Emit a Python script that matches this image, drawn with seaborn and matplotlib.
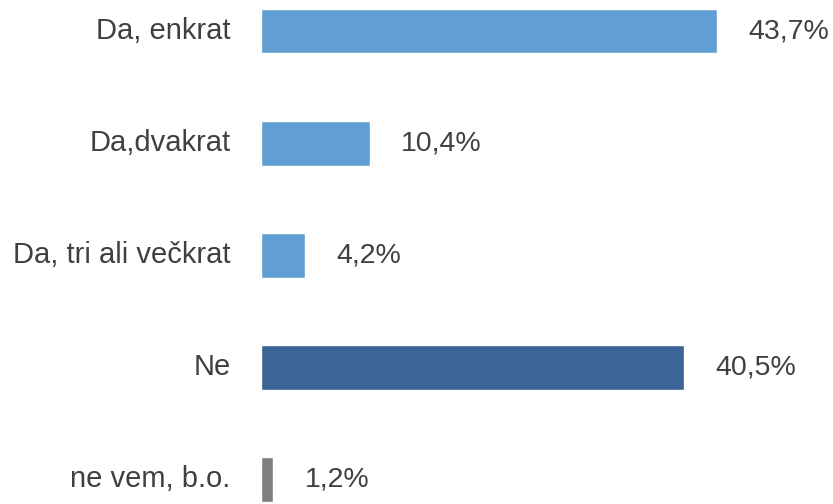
"""Horizontal bar chart: Da, enkrat / Da,dvakrat / ... shares in percent."""

import matplotlib.pyplot as plt
import pandas as pd
import seaborn as sns

categories = ["Da, enkrat", "Da,dvakrat", "Da, tri ali večkrat", "Ne", "ne vem, b.o."]
shares = [43.7, 10.4, 4.2, 40.5, 1.2]
bar_colors = ["#619ED4", "#619ED4", "#619ED4", "#3C6496", "#7F7F7F"]

TEXT_COLOR = "#404040"

sns.set_theme(style="white")
plt.rcParams["font.family"] = ["Liberation Sans", "DejaVu Sans"]

df = pd.DataFrame({"category": categories, "share": shares})

fig = plt.figure(figsize=(8.33, 5.04), dpi=100)
ax = fig.add_axes([0, 0, 1, 1])

sns.barplot(
    data=df, x="share", y="category", hue="category",
    palette=dict(zip(categories, bar_colors)), dodge=False,
    legend=False, width=0.40, saturation=1, ax=ax,
)

ax.set_xlim(-25.0, 54.8)
ax.set_ylim(4.22, -0.277)
ax.axis("off")

for i, (label, value) in enumerate(zip(categories, shares)):
    ax.text(-2.9, i, label, ha="right", va="center", fontsize=21, color=TEXT_COLOR)
    ax.text(value + 3.0, i, f"{value:.1f}%".replace(".", ","), ha="left", va="center",
            fontsize=20.5, color=TEXT_COLOR)

fig.savefig("out.png", dpi=100)
plt.close(fig)
